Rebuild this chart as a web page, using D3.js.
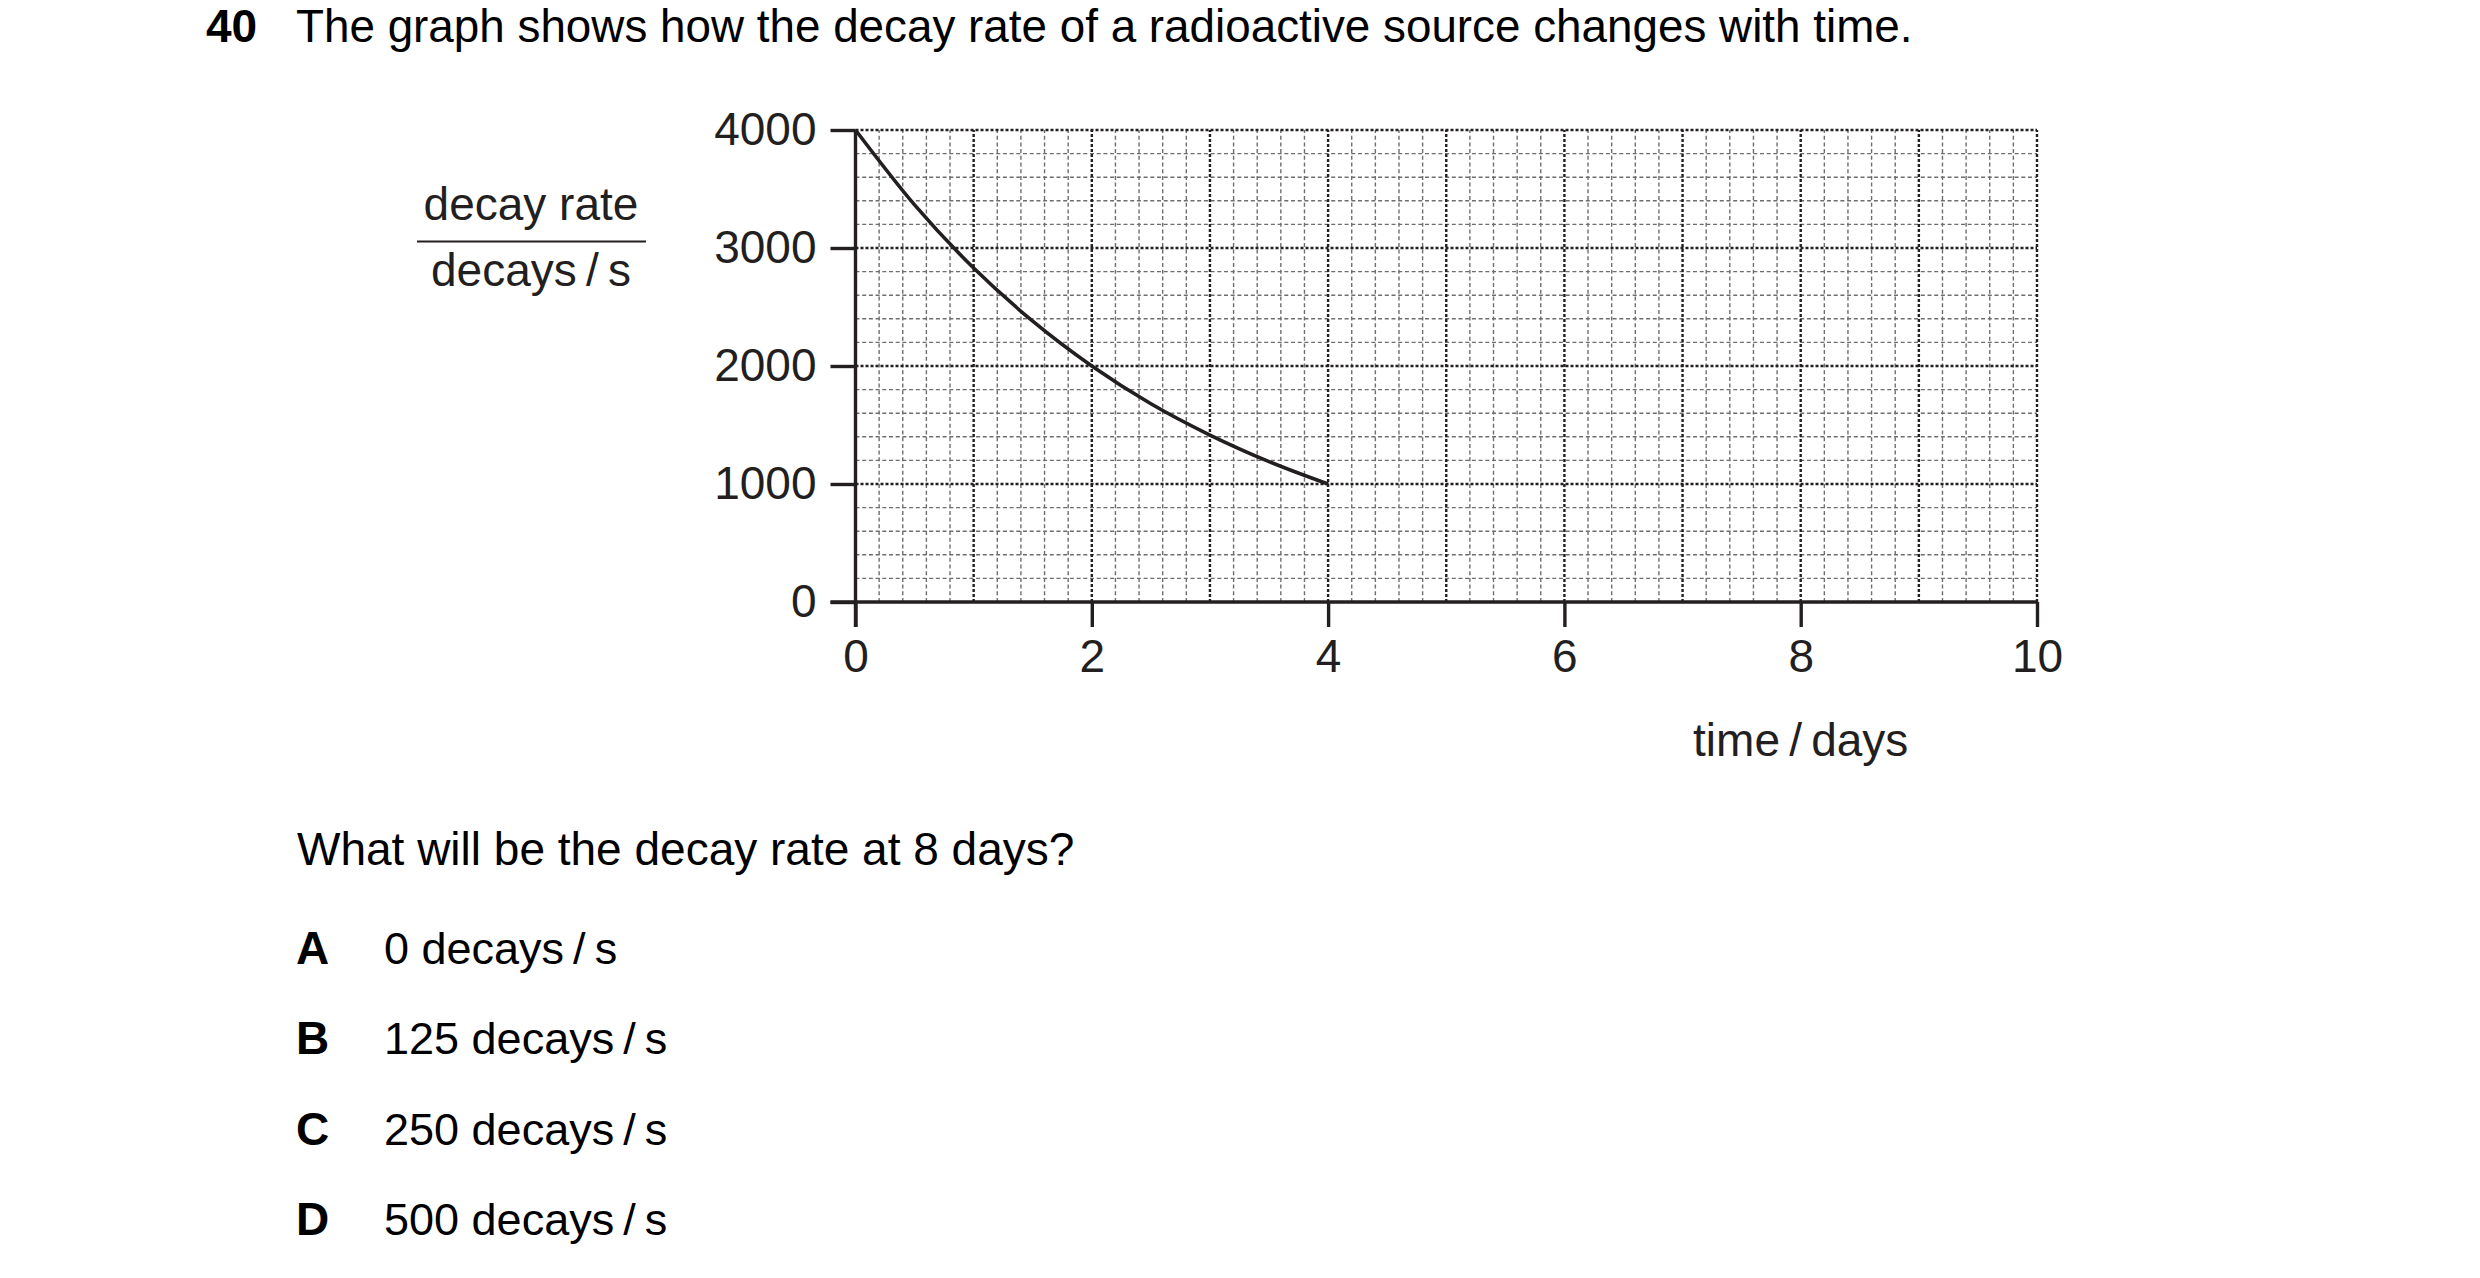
<!DOCTYPE html>
<html>
<head>
<meta charset="utf-8">
<script src="https://cdn.jsdelivr.net/npm/d3@7"></script>
<style>
  html, body { margin: 0; padding: 0; background: #fff; }
  svg { display: block; }
  text { font-family: "Liberation Sans", Arial, Helvetica, sans-serif; }
</style>
</head>
<body>
<svg id="chart" width="2480" height="1278"></svg>
<script>
// ---- data ----
const timeDays = [0, 0.5, 1, 1.5, 2, 2.5, 3, 3.5, 4];
const decayRate = [4000, 3365, 2830, 2380, 2000, 1680, 1415, 1190, 1000];
const xTicks = [0, 2, 4, 6, 8, 10];
const yTicks = [0, 1000, 2000, 3000, 4000];
const questionNumber = "40";
const titleText = "The graph shows how the decay rate of a radioactive source changes with time.";
const yLabelTop = "decay rate";
const yLabelBottom = "decays\u2009/\u2009s";
const xLabel = "time\u2009/\u2009days";
const questionText = "What will be the decay rate at 8 days?";
const optionLetters = ["A", "B", "C", "D"];
const optionTexts = ["0 decays\u2009/\u2009s", "125 decays\u2009/\u2009s", "250 decays\u2009/\u2009s", "500 decays\u2009/\u2009s"];

// ---- layout ----
const ink = "#231f20";
const fs = 46;
const svg = d3.select("#chart");
const plot = { left: 855.5, right: 2037, top: 130, bottom: 602 };
const x = d3.scaleLinear().domain([0, 10]).range([plot.left, plot.right]);
const y = d3.scaleLinear().domain([0, 4000]).range([plot.bottom, plot.top]);

// header
svg.append("text").attr("x", 206).attr("y", 42)
  .attr("font-size", fs).attr("font-weight", "bold").attr("fill", "#000")
  .text(questionNumber);
svg.append("text").attr("x", 296).attr("y", 42)
  .attr("font-size", 45.8).attr("fill", "#000")
  .text(titleText);

// grid
const g = svg.append("g");
const minorX = d3.range(0, 51).map(i => i * 0.2).filter(v => Math.abs(v - Math.round(v)) > 1e-6);
const majorX = d3.range(1, 11);
const minorY = d3.range(0, 21).map(i => i * 200).filter(v => v % 1000 !== 0);
const majorY = [1000, 2000, 3000, 4000];

g.selectAll("line.minx").data(minorX).join("line")
  .attr("x1", d => x(d)).attr("x2", d => x(d))
  .attr("y1", y(0)).attr("y2", y(4000))
  .attr("stroke", "#6e6e6e").attr("stroke-width", 1.4).attr("stroke-dasharray", "4,2.7");
g.selectAll("line.miny").data(minorY).join("line")
  .attr("x1", x(0)).attr("x2", x(10))
  .attr("y1", d => y(d)).attr("y2", d => y(d))
  .attr("stroke", "#6e6e6e").attr("stroke-width", 1.4).attr("stroke-dasharray", "4,2.7");
g.selectAll("line.majx").data(majorX).join("line")
  .attr("x1", d => x(d)).attr("x2", d => x(d))
  .attr("y1", y(0)).attr("y2", y(4000))
  .attr("stroke", ink).attr("stroke-width", 2.4).attr("stroke-dasharray", "3,2");
g.selectAll("line.majy").data(majorY).join("line")
  .attr("x1", x(0)).attr("x2", x(10))
  .attr("y1", d => y(d)).attr("y2", d => y(d))
  .attr("stroke", ink).attr("stroke-width", 2.4).attr("stroke-dasharray", "3,2");

// axes
const yAxis = svg.append("g").attr("transform", `translate(${plot.left},0)`)
  .call(d3.axisLeft(y).tickValues(yTicks).tickFormat(d3.format("d")).tickSize(25).tickSizeOuter(0).tickPadding(14));
const xAxis = svg.append("g").attr("transform", `translate(0,${plot.bottom})`)
  .call(d3.axisBottom(x).tickValues(xTicks).tickFormat(d3.format("d")).tickSize(25).tickSizeOuter(0).tickPadding(12));
[xAxis, yAxis].forEach(a => {
  a.select(".domain").attr("stroke", ink).attr("stroke-width", 3.4);
  a.selectAll(".tick line").attr("stroke", ink).attr("stroke-width", 3.4);
  a.selectAll(".tick text").attr("fill", ink).attr("font-size", fs)
    .attr("font-family", "\"Liberation Sans\", Arial, sans-serif");
});
yAxis.select(".domain").attr("d", `M0,${plot.bottom + 25}V${plot.top}`);
xAxis.select(".domain").attr("d", `M${plot.left - 25},0H${plot.right}`);

// curve
const pts = timeDays.map((t, i) => [t, decayRate[i]]);
svg.append("path").datum(pts)
  .attr("fill", "none").attr("stroke", ink).attr("stroke-width", 3.6)
  .attr("d", d3.line().x(d => x(d[0])).y(d => y(d[1])).curve(d3.curveMonotoneX));

// y label (fraction style)
svg.append("text").attr("x", 531).attr("y", 220).attr("text-anchor", "middle")
  .attr("font-size", fs).attr("fill", ink).text(yLabelTop);
svg.append("line").attr("x1", 417).attr("x2", 646).attr("y1", 241.5).attr("y2", 241.5)
  .attr("stroke", ink).attr("stroke-width", 1.8);
svg.append("text").attr("x", 531).attr("y", 286).attr("text-anchor", "middle")
  .attr("font-size", fs).attr("fill", ink).text(yLabelBottom);

// x label
svg.append("text").attr("x", x(8)).attr("y", 756).attr("text-anchor", "middle")
  .attr("font-size", fs).attr("fill", ink).text(xLabel);

// question
svg.append("text").attr("x", 297).attr("y", 865)
  .attr("font-size", fs).attr("fill", "#000").text(questionText);
const optY = [964, 1054, 1145, 1235];
const opts = svg.append("g").selectAll("g").data(optionLetters).join("g");
opts.append("text").attr("x", 296).attr("y", (d, i) => optY[i])
  .attr("font-size", fs).attr("font-weight", "bold").attr("fill", "#000").text(d => d);
opts.append("text").attr("x", 384).attr("y", (d, i) => optY[i])
  .attr("font-size", 45).attr("fill", "#000").text((d, i) => optionTexts[i]);
</script>
</body>
</html>
